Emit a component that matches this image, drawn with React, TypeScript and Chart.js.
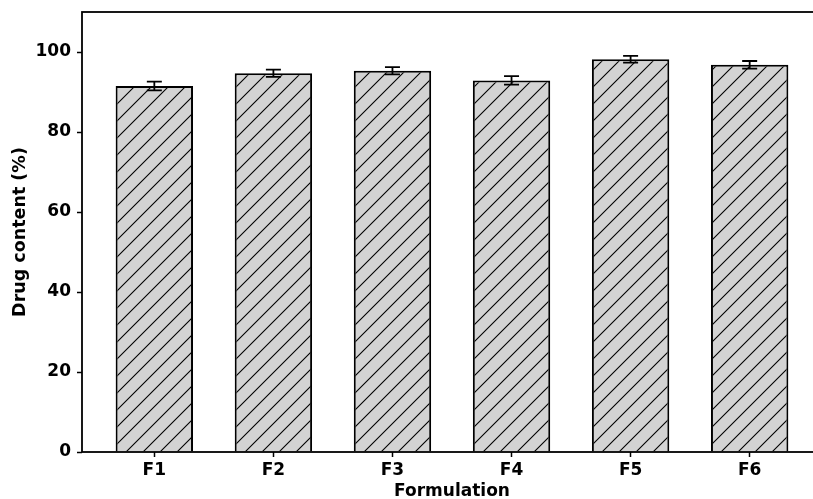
import React, { useEffect, useRef } from "react";
import { Chart, registerables } from "chart.js";

Chart.register(...registerables);

const categories: string[] = ["F1", "F2", "F3", "F4", "F5", "F6"];
const drugContent: number[] = [91.5, 94.7, 95.3, 92.9, 98.2, 96.8];
const errors: number[] = [1.1, 0.9, 0.9, 1.05, 0.85, 0.95];
const yTicks: number[] = [0, 20, 40, 60, 80, 100];

const FONT = { family: "'DejaVu Sans', sans-serif", size: 17, weight: "bold" as const };

function makePattern(ctx: CanvasRenderingContext2D): CanvasPattern | string {
  const s = 17;
  const c = document.createElement("canvas");
  c.width = s;
  c.height = s;
  const g = c.getContext("2d");
  if (!g) return "#d3d3d3";
  g.fillStyle = "#d3d3d3";
  g.fillRect(0, 0, s, s);
  g.strokeStyle = "#000";
  g.lineWidth = 1.1;
  g.beginPath();
  g.moveTo(-1, s + 1);
  g.lineTo(s + 1, -1);
  g.moveTo(-2, 2);
  g.lineTo(2, -2);
  g.moveTo(s - 2, s + 2);
  g.lineTo(s + 2, s - 2);
  g.stroke();
  return ctx.createPattern(c, "repeat") || "#d3d3d3";
}

const framePlugin = {
  id: "frame",
  afterDraw(chart: any) {
    const { ctx, chartArea } = chart;
    ctx.save();
    ctx.strokeStyle = "#000";
    ctx.lineWidth = 1.8;
    ctx.strokeRect(chartArea.left, chartArea.top, chartArea.right - chartArea.left, chartArea.bottom - chartArea.top);
    ctx.restore();
  },
};

const errorBarPlugin = {
  id: "errorBars",
  afterDatasetsDraw(chart: any) {
    const { ctx } = chart;
    const meta = chart.getDatasetMeta(0);
    const ys = chart.scales.y;
    ctx.save();
    ctx.strokeStyle = "#000";
    ctx.lineWidth = 1.8;
    meta.data.forEach((bar: any, i: number) => {
      const x = bar.x;
      const hi = ys.getPixelForValue(drugContent[i] + errors[i]);
      const lo = ys.getPixelForValue(drugContent[i] - errors[i]);
      const cap = 7.5;
      ctx.beginPath();
      ctx.moveTo(x, hi);
      ctx.lineTo(x, lo);
      ctx.moveTo(x - cap, hi);
      ctx.lineTo(x + cap, hi);
      ctx.moveTo(x - cap, lo);
      ctx.lineTo(x + cap, lo);
      ctx.stroke();
    });
    ctx.restore();
  },
};

export default function App() {
  const ref = useRef<HTMLCanvasElement | null>(null);

  useEffect(() => {
    const canvas = ref.current;
    if (!canvas) return;
    const ctx = canvas.getContext("2d");
    if (!ctx) return;
    const pattern = makePattern(ctx);
    const n = categories.length;
    const margin = 0.05 * (n - 1 + 0.65);
    const chart = new Chart(ctx, {
      type: "bar",
      data: {
        datasets: [
          {
            data: drugContent.map((v, i) => ({ x: i, y: v })),
            backgroundColor: pattern as any,
            borderColor: "#000",
            borderWidth: 2,
            barPercentage: 0.65,
            categoryPercentage: 1,
          },
        ],
      },
      options: {
        responsive: false,
        animation: false,
        devicePixelRatio: 1,
        layout: { padding: { left: 0, top: 12, right: 8, bottom: 0 } },
        plugins: { legend: { display: false }, tooltip: { enabled: false } },
        scales: {
          x: {
            type: "linear",
            offset: false,
            min: -0.325 - margin,
            max: n - 1 + 0.325 + margin,
            afterBuildTicks: (scale: any) => {
              scale.ticks = categories.map((_, i) => ({ value: i }));
            },
            afterFit: (scale: any) => {
              scale.height = 47;
              scale.paddingLeft = 0;
              scale.paddingRight = 0;
            },
            ticks: {
              color: "#000",
              font: FONT,
              padding: 3,
              autoSkip: false,
              maxRotation: 0,
              callback: (v: any) => categories[Math.round(Number(v))] ?? "",
            },
            grid: {
              display: true,
              offset: false,
              drawOnChartArea: false,
              drawTicks: true,
              tickLength: 5,
              tickWidth: 1.5,
              tickColor: "#000",
            },
            border: { display: false },
            title: {
              display: true,
              text: "Formulation",
              color: "#000",
              font: { ...FONT, lineHeight: 1 },
              padding: { top: 0, bottom: -1.5 },
            },
          },
          y: {
            min: 0,
            max: 110,
            afterBuildTicks: (scale: any) => {
              scale.ticks = yTicks.map((v) => ({ value: v }));
            },
            afterFit: (scale: any) => {
              scale.width = 82;
              scale.paddingTop = 0;
              scale.paddingBottom = 0;
            },
            ticks: {
              color: "#000",
              font: FONT,
              padding: 6,
            },
            grid: {
              display: true,
              drawOnChartArea: false,
              drawTicks: true,
              tickLength: 5,
              tickWidth: 1.5,
              tickColor: "#000",
            },
            border: { display: false },
            title: {
              display: true,
              text: "Drug content (%)",
              color: "#000",
              font: { ...FONT, size: 17.5, lineHeight: 1 },
              padding: { top: 12, bottom: 0 },
            },
          },
        },
      },
      plugins: [errorBarPlugin, framePlugin],
    } as any);
    return () => chart.destroy();
  }, []);

  return (
    <div
      style={{
        position: "fixed",
        left: 0,
        top: 0,
        width: 813,
        height: 499,
        overflow: "hidden",
        background: "#fff",
      }}
    >
      <canvas ref={ref} width={830} height={499} style={{ width: 830, height: 499, display: "block" }} />
    </div>
  );
}
